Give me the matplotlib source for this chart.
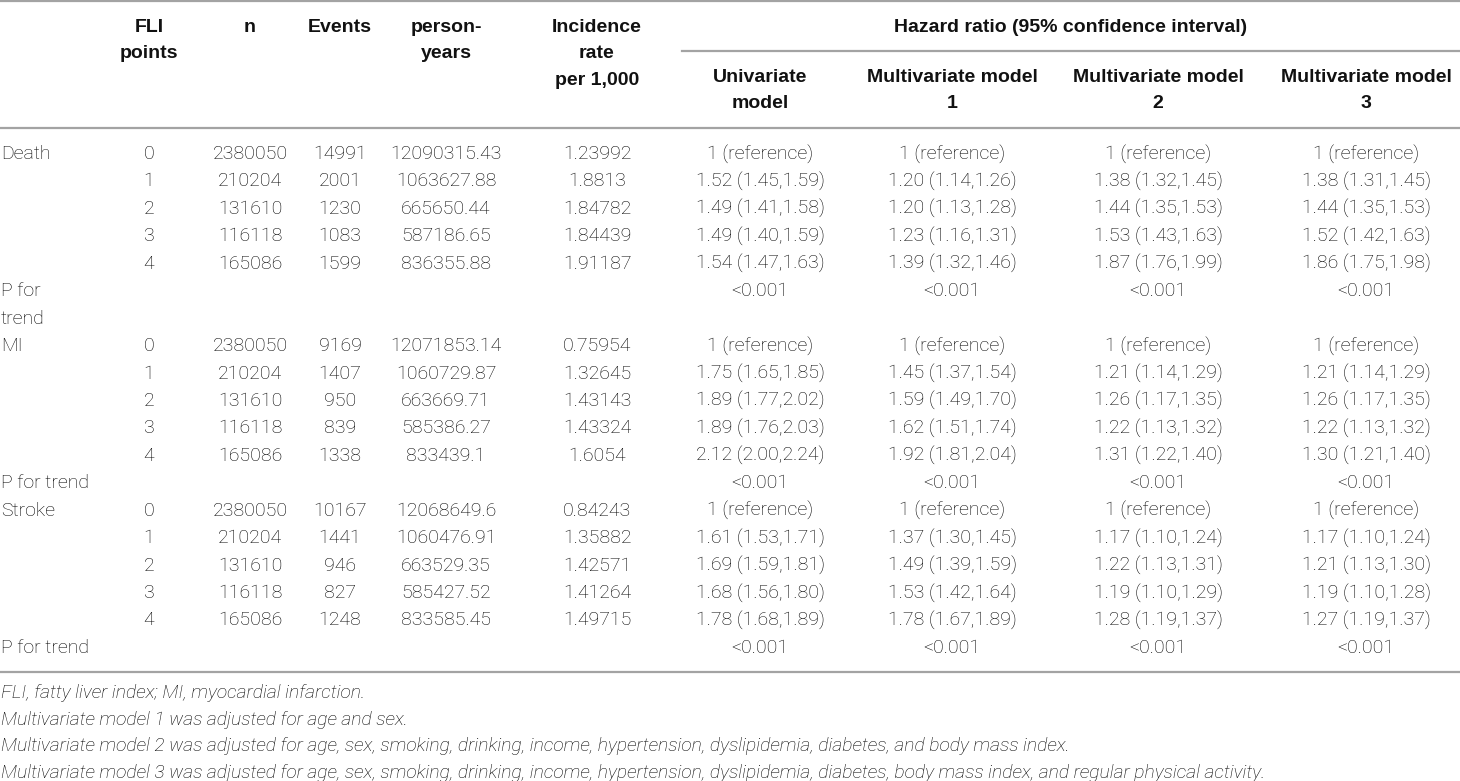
import matplotlib
matplotlib.use('Agg')
import matplotlib.pyplot as plt

plt.rcParams['font.family'] = ['Liberation Sans', 'DejaVu Sans']

# ---- data ----
outcomes = ['Death', 'MI', 'Stroke']
fli_points = ['0', '1', '2', '3', '4']
n_vals = ['2380050', '210204', '131610', '116118', '165086']

events_death = ['14991', '2001', '1230', '1083', '1599']
events_mi = ['9169', '1407', '950', '839', '1338']
events_stroke = ['10167', '1441', '946', '827', '1248']

py_death = ['12090315.43', '1063627.88', '665650.44', '587186.65', '836355.88']
py_mi = ['12071853.14', '1060729.87', '663669.71', '585386.27', '833439.1']
py_stroke = ['12068649.6', '1060476.91', '663529.35', '585427.52', '833585.45']

ir_death = ['1.23992', '1.8813', '1.84782', '1.84439', '1.91187']
ir_mi = ['0.75954', '1.32645', '1.43143', '1.43324', '1.6054']
ir_stroke = ['0.84243', '1.35882', '1.42571', '1.41264', '1.49715']

REF = '1 (reference)'
uni_death = [REF, '1.52 (1.45,1.59)', '1.49 (1.41,1.58)', '1.49 (1.40,1.59)', '1.54 (1.47,1.63)']
m1_death = [REF, '1.20 (1.14,1.26)', '1.20 (1.13,1.28)', '1.23 (1.16,1.31)', '1.39 (1.32,1.46)']
m2_death = [REF, '1.38 (1.32,1.45)', '1.44 (1.35,1.53)', '1.53 (1.43,1.63)', '1.87 (1.76,1.99)']
m3_death = [REF, '1.38 (1.31,1.45)', '1.44 (1.35,1.53)', '1.52 (1.42,1.63)', '1.86 (1.75,1.98)']

uni_mi = [REF, '1.75 (1.65,1.85)', '1.89 (1.77,2.02)', '1.89 (1.76,2.03)', '2.12 (2.00,2.24)']
m1_mi = [REF, '1.45 (1.37,1.54)', '1.59 (1.49,1.70)', '1.62 (1.51,1.74)', '1.92 (1.81,2.04)']
m2_mi = [REF, '1.21 (1.14,1.29)', '1.26 (1.17,1.35)', '1.22 (1.13,1.32)', '1.31 (1.22,1.40)']
m3_mi = [REF, '1.21 (1.14,1.29)', '1.26 (1.17,1.35)', '1.22 (1.13,1.32)', '1.30 (1.21,1.40)']

uni_stroke = [REF, '1.61 (1.53,1.71)', '1.69 (1.59,1.81)', '1.68 (1.56,1.80)', '1.78 (1.68,1.89)']
m1_stroke = [REF, '1.37 (1.30,1.45)', '1.49 (1.39,1.59)', '1.53 (1.42,1.64)', '1.78 (1.67,1.89)']
m2_stroke = [REF, '1.17 (1.10,1.24)', '1.22 (1.13,1.31)', '1.19 (1.10,1.29)', '1.28 (1.19,1.37)']
m3_stroke = [REF, '1.17 (1.10,1.24)', '1.21 (1.13,1.30)', '1.19 (1.10,1.28)', '1.27 (1.19,1.37)']

p_trend = ['<0.001', '<0.001', '<0.001', '<0.001']

headers = ['FLI\npoints', 'n', 'Events', 'person-\nyears', 'Incidence\nrate\nper 1,000']
hr_title = 'Hazard ratio (95% confidence interval)'
model_headers = ['Univariate\nmodel', 'Multivariate model\n1', 'Multivariate model\n2', 'Multivariate model\n3']

footnotes = ['FLI, fatty liver index; MI, myocardial infarction.',
             'Multivariate model 1 was adjusted for age and sex.',
             'Multivariate model 2 was adjusted for age, sex, smoking, drinking, income, hypertension, dyslipidemia, diabetes, and body mass index.',
             'Multivariate model 3 was adjusted for age, sex, smoking, drinking, income, hypertension, dyslipidemia, diabetes, body mass index, and regular physical activity.']

blocks = [
    (outcomes[0], events_death, py_death, ir_death, [uni_death, m1_death, m2_death, m3_death], True),
    (outcomes[1], events_mi, py_mi, ir_mi, [uni_mi, m1_mi, m2_mi, m3_mi], False),
    (outcomes[2], events_stroke, py_stroke, ir_stroke, [uni_stroke, m1_stroke, m2_stroke, m3_stroke], False),
]

# ---- layout (pixel coords) ----
W, H = 1460, 781
fig = plt.figure(figsize=(W / 100, H / 100), dpi=100)
ax = fig.add_axes([0, 0, 1, 1])
ax.set_xlim(0, W)
ax.set_ylim(H, 0)
ax.axis('off')

fs = 14
lc = '#a3a3a3'
tc = '#000000'
body = dict(fontsize=fs, color=tc, family=['Roboto', 'Liberation Sans'], fontweight='light')
head = dict(fontsize=fs, color='#111111', fontweight='bold')
row0, dy = 154, 27.44
hdy = 26.6
xcols = [149, 250, 340, 446, 597]
xmod = [760, 952, 1158, 1366]

# rules
ax.plot([0, W], [1, 1], color=lc, lw=1.6)
ax.plot([682, W], [51, 51], color=lc, lw=1.6)
ax.plot([0, W], [128, 128], color=lc, lw=1.6)
ax.plot([0, W], [672, 672], color=lc, lw=1.6)

# header
for x, h in zip(xcols, headers):
    for k, part in enumerate(h.split('\n')):
        ax.text(x, 27 + k * hdy, part, ha='center', va='center', **head)
ax.text(1071, 27, hr_title, ha='center', va='center', **head)
for x, h in zip(xmod, model_headers):
    for k, part in enumerate(h.split('\n')):
        ax.text(x, 77 + k * hdy, part, ha='center', va='center', **head)

# body
r = 0
for name, ev, py, ir, mods, two_line in blocks:
    for i in range(5):
        y = row0 + (r + i) * dy
        if i == 0:
            ax.text(1, y, name, ha='left', va='center', **body)
        cells = [fli_points[i], n_vals[i], ev[i], py[i], ir[i]]
        for x, c in zip(xcols, cells):
            ax.text(x, y, c, ha='center', va='center', **body)
        for x, m in zip(xmod, mods):
            ax.text(x, y, m[i], ha='center', va='center', **body)
    r += 5
    y = row0 + r * dy
    if two_line:
        ax.text(1, y, 'P for', ha='left', va='center', **body)
        ax.text(1, y + dy, 'trend', ha='left', va='center', **body)
    else:
        ax.text(1, y, 'P for trend', ha='left', va='center', **body)
    for x, p in zip(xmod, p_trend):
        ax.text(x, y, p, ha='center', va='center', **body)
    r += 2 if two_line else 1

# footnotes
for k, f in enumerate(footnotes):
    ax.text(1, 693 + k * 26.7, f, ha='left', va='center', fontsize=13.9,
            style='italic', color=tc, family=['Roboto', 'Liberation Sans'],
            fontweight='light')

fig.savefig('out.png', dpi=100)
